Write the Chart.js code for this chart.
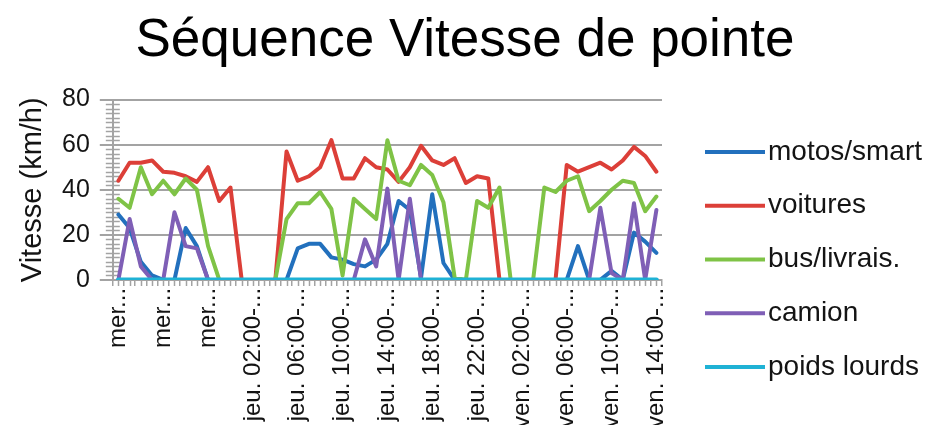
<!DOCTYPE html>
<html>
<head>
<meta charset="utf-8">
<script src="https://cdn.jsdelivr.net/npm/chart.js@4.4.1/dist/chart.umd.min.js"></script>
<style>
  html, body { margin: 0; padding: 0; background: #ffffff; }
  #wrap { width: 930px; height: 425px; overflow: hidden; position: relative; }
  canvas { display: block; }
</style>
</head>
<body>
<div id="wrap"><canvas id="c" width="930" height="430"></canvas></div>
<script>
// ---------------- DATA ----------------
const chartTitle = 'Séquence Vitesse de pointe';
const yTitle = 'Vitesse (km/h)';

const categories = [
  'mer. 14:00-15:00','mer. 15:00-16:00','mer. 16:00-17:00','mer. 17:00-18:00',
  'mer. 18:00-19:00','mer. 19:00-20:00','mer. 20:00-21:00','mer. 21:00-22:00',
  'mer. 22:00-23:00','mer. 23:00-00:00','jeu. 00:00-01:00','jeu. 01:00-02:00',
  'jeu. 02:00-03:00','jeu. 03:00-04:00','jeu. 04:00-05:00','jeu. 05:00-06:00',
  'jeu. 06:00-07:00','jeu. 07:00-08:00','jeu. 08:00-09:00','jeu. 09:00-10:00',
  'jeu. 10:00-11:00','jeu. 11:00-12:00','jeu. 12:00-13:00','jeu. 13:00-14:00',
  'jeu. 14:00-15:00','jeu. 15:00-16:00','jeu. 16:00-17:00','jeu. 17:00-18:00',
  'jeu. 18:00-19:00','jeu. 19:00-20:00','jeu. 20:00-21:00','jeu. 21:00-22:00',
  'jeu. 22:00-23:00','jeu. 23:00-00:00','ven. 00:00-01:00','ven. 01:00-02:00',
  'ven. 02:00-03:00','ven. 03:00-04:00','ven. 04:00-05:00','ven. 05:00-06:00',
  'ven. 06:00-07:00','ven. 07:00-08:00','ven. 08:00-09:00','ven. 09:00-10:00',
  'ven. 10:00-11:00','ven. 11:00-12:00','ven. 12:00-13:00','ven. 13:00-14:00',
  'ven. 14:00-15:00'
];

// labels shown on the axis (one every 4 categories), truncated as in the original
const tickLabels = [
  'mer...','mer...','mer...',
  'jeu. 02:00-...','jeu. 06:00-...','jeu. 10:00-...','jeu. 14:00-...','jeu. 18:00-...','jeu. 22:00-...',
  'ven. 02:00-...','ven. 06:00-...','ven. 10:00-...','ven. 14:00-...'
];
const labelEvery = 4;

const seriesNames = ['motos/smart','voitures','bus/livrais.','camion','poids lourds'];

const motos = [29,23,8,2,0,0,23,15,0,0,0,0,0,0,0,0,14,16,16,10,9,7,6,9,16,35,31,1,38,7.5,0,0,0,0,0,0,0,0,0,0,0,15,0,0,4,0,21,17,12];
const voitures = [44,52,52,53,48,47.5,46,43.5,50,35,41,0,0,0,0,57,44,46,50,62,45,45,54,50,49,43.5,50,59.5,53,51,54,43,46,45,0,0,0,0,0,0,51,48,50,52,49,53,59,55,48];
const bus = [36,32,50,38,44,38,45,40,15,0,0,0,0,0,0,27,34,34,39,31.5,2,36,31.5,27,62,44,42,51,46.5,34.5,1,0,35,32,41,0,0,0,41,39,44,46,30.5,35,40,44,43,30.5,37];
const camion = [0,27,6,0,0,30,15,14,0,0,0,0,0,0,0,0,0,0,0,0,0,0,18,6,40.5,0,36,0,0,0,0,0,0,0,0,0,0,0,0,0,0,0,0,32,3,0,34,0,31];
const poidsLourds = [0,0,0,0,0,0,0,0,0,0,0,0,0,0,0,0,0,0,0,0,0,0,0,0,0,0,0,0,0,0,0,0,0,0,0,0,0,0,0,0,0,0,0,0,0,0,0,0,0];

const yMin = 0, yMax = 80, yStep = 20, yMinorStep = 2;

// ---------------- STYLE ----------------
const colors = ['#2270bd', '#dc3f38', '#7fc346', '#7f5fb6', '#1fb2d5'];
const GRID = '#a3a3a3';
const TEXT = '#141414';
const FONT = "'Liberation Sans', Arial, sans-serif";

Chart.defaults.font.family = FONT;
Chart.defaults.color = TEXT;

// legend line symbol (small canvas used as point style)
const LEG_FONT = 28, LEG_BOX = 49, LEG_IMG_W = 71, LEG_LINE = 60;
function legendSymbol(color) {
  const c = document.createElement('canvas');
  c.width = LEG_IMG_W; c.height = 6;
  const g = c.getContext('2d');
  g.strokeStyle = color; g.lineWidth = 4;
  g.beginPath(); g.moveTo(LEG_IMG_W - LEG_LINE, 3); g.lineTo(LEG_IMG_W, 3); g.stroke();
  return c;
}

const minorTicks = {
  id: 'minorTicks',
  beforeDatasetsDraw(chart) {
    const {ctx, scales: {x, y}} = chart;
    ctx.save();
    ctx.strokeStyle = GRID;
    ctx.lineWidth = 1.5;
    ctx.beginPath();
    for (let v = yMin + yMinorStep; v < yMax; v += yMinorStep) {
      if (v % yStep === 0) continue;
      const py = Math.round(y.getPixelForValue(v)) + 0.5;
      ctx.moveTo(y.right - 7, py); ctx.lineTo(y.right + 7, py);
    }
    for (let i = 0; i < categories.length; i++) {
      const px = Math.round(x.getPixelForValue(i)) + 0.5;
      ctx.moveTo(px, x.top); ctx.lineTo(px, x.top + 6);
    }
    ctx.stroke();
    ctx.restore();
  }
};

// let the legend text run to the canvas edge (legend box is width-capped by the layout)
const legendNoClip = {
  id: 'legendNoClip',
  beforeDraw(chart) { if (chart.legend) chart.legend.right = chart.width; }
};

const allSeries = [motos, voitures, bus, camion, poidsLourds];
const datasets = allSeries.map((d, i) => ({
  label: seriesNames[i],
  data: d,
  borderColor: colors[i],
  backgroundColor: colors[i],
  borderWidth: i === 4 ? 5 : 4,
  pointRadius: 0,
  tension: 0,
  fill: false,
  borderJoinStyle: 'round',
  borderCapStyle: 'round',
  order: allSeries.length - i,
  yAxisID: 'y'
}));

new Chart(document.getElementById('c'), {
  type: 'line',
  data: { labels: categories, datasets },
  plugins: [minorTicks, legendNoClip],
  options: {
    responsive: false,
    animation: false,
    devicePixelRatio: 1,
    layout: { padding: { left: 36.5, right: 36.5, top: 0, bottom: 0 } },
    plugins: {
      tooltip: { enabled: false },
      title: {
        display: true,
        text: chartTitle,
        color: '#000',
        font: { size: 53, weight: 'normal', family: FONT },
        padding: { top: 10, bottom: 26 }
      },
      legend: {
        display: true,
        position: 'right',
        align: 'center',
        title: { display: true, text: '', font: { size: 10 }, padding: 38.5 },
        labels: {
          usePointStyle: true,
          pointStyleWidth: LEG_BOX,
          padding: 25.75,
          color: TEXT,
          font: { size: LEG_FONT, family: FONT },
          sort: (a, b) => a.datasetIndex - b.datasetIndex,
          generateLabels(chart) {
            const items = Chart.defaults.plugins.legend.labels.generateLabels(chart);
            items.forEach(it => { it.pointStyle = legendSymbol(colors[it.datasetIndex]); });
            return items;
          }
        }
      }
    },
    scales: {
      x: {
        type: 'category',
        offset: true,
        grid: { offset: true, drawOnChartArea: false, tickLength: 6, color: GRID, lineWidth: 1.5 },
        border: { display: true, color: GRID, width: 2 },
        ticks: {
          autoSkip: false,
          minRotation: 90,
          maxRotation: 90,
          padding: 2,
          color: TEXT,
          font: { size: 24, family: FONT },
          callback: (v, idx) => (idx % labelEvery === 0 ? tickLabels[idx / labelEvery] : '')
        }
      },
      y: {
        position: 'left',
        min: yMin,
        max: yMax,
        grid: { color: GRID, lineWidth: 2, tickLength: 13 },
        border: { display: true, color: GRID, width: 2 },
        ticks: { stepSize: yStep, padding: 10, color: TEXT, font: { size: 25, family: FONT } },
        title: {
          display: true,
          text: yTitle,
          color: TEXT,
          font: { size: 29, family: FONT },
          padding: { top: -20.9, bottom: 1.6 }
        }
      },
      spacer: {
        type: 'linear',
        position: 'right',
        display: false,
        afterFit: (s) => { s.width = 17.25; }
      }
    }
  }
});
</script>
</body>
</html>
